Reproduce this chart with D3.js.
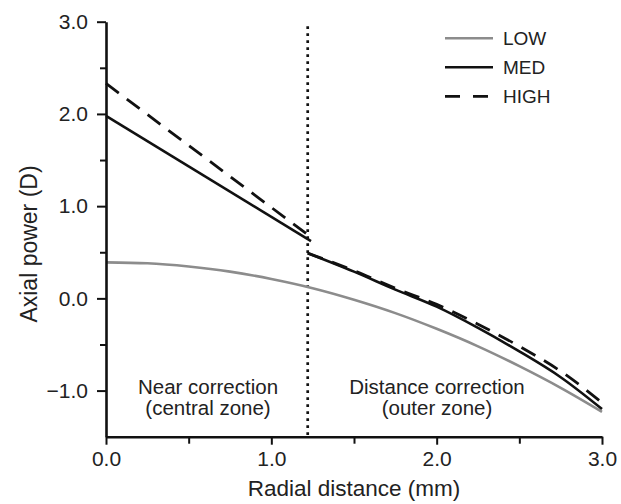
<!DOCTYPE html>
<html>
<head>
<meta charset="utf-8">
<script src="https://cdn.jsdelivr.net/npm/d3@7"></script>
<style>
  html, body { margin: 0; padding: 0; background: #fff; }
  svg { display: block; font-family: "Liberation Sans", Arial, Helvetica, sans-serif; }
</style>
</head>
<body>
<svg id="chart" width="621" height="504"></svg>
<script>
// ---- data ----
const lowX = [0, 0.25, 0.5, 0.75, 1.0, 1.25, 1.5, 1.75, 2.0, 2.25, 2.5, 2.75, 3.0];
const lowY = [0.39, 0.38, 0.345, 0.29, 0.21, 0.11, -0.015, -0.16, -0.33, -0.52, -0.735, -0.97, -1.23];

const innerMedX = [0, 1.24];
const innerMedY = [1.98, 0.62];
const innerHighX = [0, 1.25];
const innerHighY = [2.33, 0.65];

const outerX = [1.22, 1.5, 1.75, 2.0, 2.25, 2.5, 2.75, 3.0];
const outerMedY = [0.49, 0.29, 0.095, -0.09, -0.32, -0.575, -0.855, -1.2];
const outerHighY = [0.49, 0.30, 0.11, -0.065, -0.28, -0.52, -0.79, -1.13];

const zoneBoundary = 1.22;

const seriesNames = ["LOW", "MED", "HIGH"];
const xMajorTicks = [0, 1, 2, 3];
const xMinorTicks = [0.5, 1.5, 2.5];
const yMajorTicks = [-1, 0, 1, 2, 3];
const yMinorTicks = [-0.5, 0.5, 1.5, 2.5];
const xTitle = "Radial distance (mm)";
const yTitle = "Axial power (D)";
const nearLabel = ["Near correction", "(central zone)"];
const farLabel = ["Distance correction", "(outer zone)"];

// ---- layout ----
const svg = d3.select("#chart");
const x = d3.scaleLinear().domain([0, 3]).range([106, 602]);
const y = d3.scaleLinear().domain([-1.5, 3]).range([436.7, 21.7]);

const styles = {
  LOW:  { stroke: "#8c8c8c", width: 2.6, dash: null },
  MED:  { stroke: "#111", width: 2.6, dash: null },
  HIGH: { stroke: "#111", width: 2.8, dash: "16,10" }
};

const fmt = d3.format(".1f");
const textColor = "#222";

// dotted boundary
svg.append("line")
  .attr("x1", x(zoneBoundary)).attr("x2", x(zoneBoundary))
  .attr("y1", y(2.95)).attr("y2", y(-1.5))
  .attr("stroke", "#111").attr("stroke-width", 2.7)
  .attr("stroke-dasharray", "2.6,4.4");

// lines
const line = d3.line().x(d => x(d[0])).y(d => y(d[1])).curve(d3.curveMonotoneX);
function draw(xs, ys, name) {
  const s = styles[name];
  svg.append("path")
    .attr("d", line(xs.map((v, i) => [v, ys[i]])))
    .attr("fill", "none")
    .attr("stroke", s.stroke)
    .attr("stroke-width", s.width)
    .attr("stroke-dasharray", s.dash);
}
draw(lowX, lowY, "LOW");
draw(innerMedX, innerMedY, "MED");
draw(outerX, outerMedY, "MED");
draw(innerHighX, innerHighY, "HIGH");
draw(outerX, outerHighY, "HIGH");

// axes
svg.append("g").attr("transform", `translate(0,${y(-1.5)})`)
  .call(d3.axisBottom(x).tickValues(xMajorTicks).tickFormat(fmt).tickSize(8).tickSizeOuter(0).tickPadding(6));
const xMinor = svg.append("g").attr("transform", `translate(0,${y(-1.5)})`)
  .call(d3.axisBottom(x).tickValues(xMinorTicks).tickFormat("").tickSize(7).tickSizeOuter(0));
xMinor.select(".domain").remove();

svg.append("g").attr("transform", `translate(${x(0)},0)`)
  .call(d3.axisLeft(y).tickValues(yMajorTicks).tickFormat(fmt).tickSize(9).tickSizeOuter(0).tickPadding(9));
const yMinor = svg.append("g").attr("transform", `translate(${x(0)},0)`)
  .call(d3.axisLeft(y).tickValues(yMinorTicks).tickFormat("").tickSize(6).tickSizeOuter(0));
yMinor.select(".domain").remove();

svg.selectAll(".domain").attr("stroke", "#111").attr("stroke-width", 2.6);
svg.selectAll(".tick line").attr("stroke", "#111").attr("stroke-width", 2);
svg.selectAll(".tick text").attr("fill", textColor).style("font-size", "21px");

// axis titles
svg.append("text").attr("x", 354).attr("y", 496)
  .attr("text-anchor", "middle").attr("fill", textColor)
  .style("font-size", "22.5px").text(xTitle);
svg.append("text")
  .attr("transform", "translate(37,244) rotate(-90)")
  .attr("text-anchor", "middle").attr("fill", textColor)
  .style("font-size", "23px").text(yTitle);

// zone annotations
function annot(lines, cx) {
  lines.forEach((t, i) => {
    svg.append("text").attr("x", cx).attr("y", 394 + i * 21)
      .attr("text-anchor", "middle").attr("fill", textColor)
      .style("font-size", "20.5px").text(t);
  });
}
annot(nearLabel, 208);
annot(farLabel, 437);

// legend
seriesNames.forEach((name, i) => {
  const s = styles[name];
  const ly = 38.3 + i * 29;
  svg.append("line").attr("x1", 445).attr("x2", 493).attr("y1", ly).attr("y2", ly)
    .attr("stroke", s.stroke).attr("stroke-width", s.width)
    .attr("stroke-dasharray", name === "HIGH" ? "15,13" : null);
  svg.append("text").attr("x", 503).attr("y", ly).attr("dy", "0.36em")
    .attr("fill", textColor).style("font-size", "19px").text(name);
});
</script>
</body>
</html>
